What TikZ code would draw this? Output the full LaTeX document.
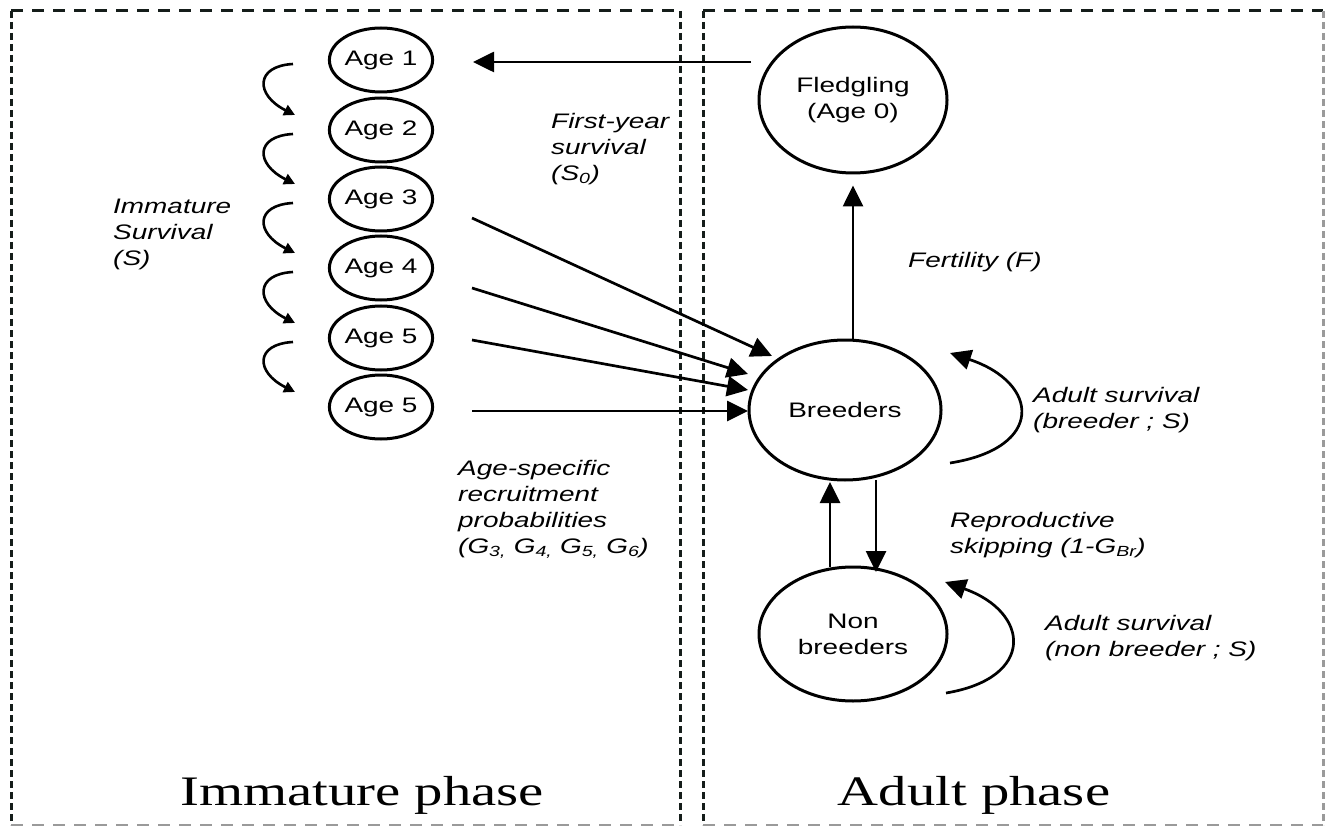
\documentclass[tikz,border=0pt]{standalone}
\usepackage{fontspec}
\newfontfamily\hv[FakeStretch=1.33]{Liberation Sans}
\newfontfamily\tm[FakeStretch=1.35]{Liberation Serif}
\usetikzlibrary{shapes.geometric,arrows.meta,calc}
\definecolor{dk}{HTML}{151D1A}
\definecolor{lg}{HTML}{9A9A9A}
\begin{document}
\begin{tikzpicture}[x=1pt,y=-1pt,
  st/.style={ellipse, draw, line width=3pt, inner sep=0pt, align=center, font=\hv\fontsize{21}{26}\selectfont},
  agebox/.style={st, minimum width=94pt, minimum height=64pt},
  lab/.style={font=\hv\itshape\fontsize{21}{26}\selectfont, align=left, anchor=west, inner sep=0pt},
  phase/.style={font=\tm\fontsize{42}{42}\selectfont, anchor=base, inner sep=0pt},
  arr/.style={line width=2.7pt, -{Triangle[length=21pt,width=20pt]}},
  sarr/.style={line width=2.6pt, -{Triangle[length=11pt,width=11pt]}},
  hd/.style={line width=3pt, dash pattern=on 12pt off 9pt},
  vd/.style={line width=3pt, dash pattern=on 7pt off 4pt},
]
\useasboundingbox (0,0) rectangle (1325,826);
% frames
\draw[hd, dk] (11,11) -- (680,11);
\draw[vd, dk] (11,11) -- (11,825);
\draw[vd, dk] (680,11) -- (680,825);
\draw[hd, lg, line width=2.4pt] (11,825) -- (680,825);
\draw[hd, dk] (703,11) -- (1323,11);
\draw[vd, dk] (703,11) -- (703,825);
\draw[vd, lg] (1323,11) -- (1323,825);
\draw[hd, lg, line width=2.4pt] (703,825) -- (1323,825);
% state nodes
\node[agebox] (a1) at (381,60) {Age 1};
\node[agebox] (a2) at (381,130) {Age 2};
\node[agebox] (a3) at (381,199) {Age 3};
\node[agebox] (a4) at (381,268) {Age 4};
\node[agebox] (a5) at (381,338) {Age 5};
\node[agebox] (a6) at (381,407) {Age 5};
\node[st, minimum width=188pt, minimum height=146pt] (fl) at (853,100) {Fledgling\\(Age 0)};
\node[st, minimum width=192pt, minimum height=140pt] (br) at (845,410) {Breeders};
\node[st, minimum width=188pt, minimum height=134pt] (nb) at (853,634) {Non\\breeders};
% labels
\node[lab] (lis) at (113,234) {Immature\\Survival\\(S)};
\node[lab] (lfy) at (551,149) {First-year\\survival\\(S\textsubscript{0})};
\node[lab] (lfe) at (908,262) {Fertility (F)};
\node[lab] (lab1) at (1033,410) {Adult survival\\(breeder ; S)};
\node[lab] (lrs) at (950,535) {Reproductive\\skipping (1-G\textsubscript{Br})};
\node[lab] (lab2) at (1045,638) {Adult survival\\(non breeder ; S)};
\node[lab] (lrec) at (458,509) {Age-specific\\recruitment\\probabilities\\(G\textsubscript{3,} G\textsubscript{4,} G\textsubscript{5,} G\textsubscript{6})};
\node[phase] (pi) at (362,805) {Immature phase};
\node[phase] (pa) at (974,805) {Adult phase};
% immature survival arrows
\foreach \p/\q in {a1/a2,a2/a3,a3/a4,a4/a5,a5/a6}
  \draw[sarr] ($(\p.center)+(-88,4)$) .. controls +(-38,2) and +(-40,-20) .. ($(\q.center)+(-86,-15)$);
% first-year survival
\draw[arr] ($(fl.center)+(-102,-38)$) -- ($(a1.center)+(92,2)$);
% fertility
\draw[arr] ($(br.center)+(8,-70)$) -- ($(fl.south)+(0,11)$);
% recruitment
\draw[arr] ($(a3.center)+(91,19)$) -- ($(br.center)+(-73,-54)$);
\draw[arr] ($(a4.center)+(91,20)$) -- ($(br.center)+(-97,-36)$);
\draw[arr] ($(a5.center)+(91,2)$) -- ($(br.center)+(-97,-20)$);
\draw[arr] ($(a6.center)+(91,4)$) -- ($(br.center)+(-97,1)$);
% breeders <-> non breeders
\draw[arr] ($(nb.center)+(-23,-67)$) -- ($(br.center)+(-15,72)$);
\draw[arr] ($(br.center)+(31,70)$) -- ($(nb.center)+(23,-62)$);
% adult survival loops
\draw[arr] ($(br.center)+(105,53)$) .. controls +(95,-15) and +(90,30) .. ($(br.center)+(105,-57)$);
\draw[arr] ($(nb.center)+(93,59)$) .. controls +(90,-15) and +(85,30) .. ($(nb.center)+(92,-52)$);
\end{tikzpicture}
\end{document}
